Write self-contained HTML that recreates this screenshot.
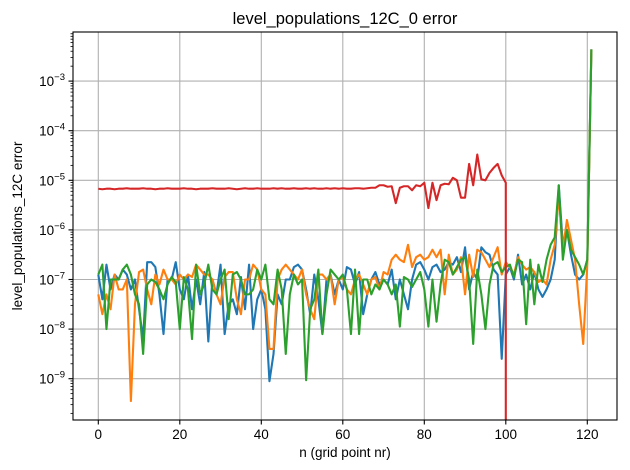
<!DOCTYPE html>
<html><head><meta charset="utf-8">
<style>
html,body{margin:0;padding:0;background:#fff;overflow:hidden;}
svg{display:block;font-family:"Liberation Sans","DejaVu Sans",sans-serif;}
</style></head>
<body>
<svg id="chart" width="630" height="470" viewBox="0 0 630 470">
<defs><clipPath id="plotclip"><rect x="73" y="32" width="544" height="388"/></clipPath></defs>
<rect width="630" height="470" fill="#fff"/>
<text x="345" y="24" text-anchor="middle" font-size="16.5" fill="#000">level_populations_12C_0 error</text>
<text x="345" y="457" text-anchor="middle" font-size="13.5" fill="#000">n (grid point nr)</text>
<text transform="translate(22,226) rotate(-90)" text-anchor="middle" font-size="13.5" fill="#000">level_populations_12C error</text>
<g id="grid"></g>
<g id="series" clip-path="url(#plotclip)"></g>
<rect x="73" y="32" width="544" height="388" fill="none" stroke="#000" stroke-width="1.1"/>
<g id="ticks"></g>
</svg>
<script>
const xTicks = [0, 20, 40, 60, 80, 100, 120];
const yTickExps = [-9, -8, -7, -6, -5, -4, -3];
const redLog10 = [-5.17,-5.18,-5.17,-5.17,-5.18,-5.17,-5.17,-5.16,-5.17,-5.17,-5.17,-5.16,-5.17,-5.17,-5.18,-5.17,-5.17,-5.16,-5.17,-5.17,
-5.17,-5.16,-5.17,-5.17,-5.18,-5.17,-5.17,-5.17,-5.16,-5.17,-5.17,-5.17,-5.16,-5.17,-5.18,-5.17,-5.16,-5.17,-5.17,-5.16,
-5.17,-5.17,-5.17,-5.16,-5.17,-5.16,-5.17,-5.17,-5.16,-5.17,-5.17,-5.16,-5.17,-5.16,-5.17,-5.17,-5.16,-5.17,-5.16,-5.17,
-5.16,-5.17,-5.17,-5.16,-5.16,-5.17,-5.16,-5.15,-5.15,-5.1,-5.1,-5.13,-5.12,-5.46,-5.15,-5.12,-5.12,-5.2,-5.1,-5.12,
-5.05,-5.56,-5.05,-5.4,-5.1,-5.07,-5.08,-4.95,-5.0,-5.35,-5.35,-4.67,-5.1,-4.48,-4.98,-5.0,-4.85,-4.75,-4.67,-4.9,-5.05,null];
const blueLog10 = [-6.9,-7.4,-6.7,-7.2,-6.9,-7.0,-6.8,-6.9,-7.2,-7.0,
-7.6,-8.2,-6.65,-6.65,-6.75,-7.3,-8.1,-7.0,-7.0,-6.65,
-7.2,-7.4,-6.9,-7.6,-7.0,-7.5,-6.85,-8.25,-7.0,-7.3,
-6.7,-8.1,-7.5,-7.4,-7.7,-6.95,-7.6,-6.7,-8.0,-7.4,
-7.2,-7.6,-9.05,-8.5,-7.3,-7.5,-7.0,-7.0,-6.75,-6.7,
-6.8,-7.2,-7.7,-6.9,-7.4,-8.1,-7.0,-6.9,-7.3,-7.0,
-7.2,-6.75,-6.8,-7.1,-6.85,-7.7,-7.3,-7.0,-6.85,-7.1,
-7.0,-7.1,-6.8,-7.4,-7.0,-7.3,-7.6,-7.0,-6.7,-6.65,
-6.8,-7.0,-6.75,-6.7,-6.85,-6.8,-6.65,-6.7,-6.55,-6.85,
-6.35,-7.2,-6.85,-7.0,-6.35,-6.45,-6.5,-6.8,-6.9,-8.6,
-6.9,-6.75,-7.0,-6.5,-7.1,-6.9,-7.2,-6.85,-7.2,-7.35,
-7.2,-7.0,-6.6,-5.1,-6.3,-6.0,-6.5,-6.9,-7.0,-6.9,
-6.6,-2.36];
const orangeLog10 = [-7.3,-7.7,-7.3,-7.6,-6.9,-7.2,-7.2,-7.0,-9.45,-7.5,
-6.85,-6.8,-7.2,-7.5,-6.9,-7.1,-6.8,-7.0,-7.0,-7.1,
-6.9,-7.0,-6.9,-6.95,-6.7,-6.8,-6.9,-6.9,-7.0,-7.3,
-7.5,-6.95,-6.85,-6.85,-7.4,-7.7,-7.0,-7.0,-6.7,-6.8,
-7.2,-7.3,-8.4,-8.4,-7.0,-6.8,-6.7,-6.8,-6.9,-7.0,
-6.8,-7.3,-7.6,-7.8,-6.9,-6.9,-7.0,-6.9,-7.5,-7.0,
-6.95,-7.2,-7.3,-7.0,-6.9,-7.1,-7.3,-7.0,-6.95,-7.2,
-6.85,-6.9,-6.6,-6.5,-6.6,-6.65,-6.3,-6.75,-6.55,-6.5,
-6.6,-6.55,-6.4,-6.55,-6.4,-7.3,-6.5,-6.9,-6.8,-6.55,
-7.3,-6.5,-6.95,-6.4,-6.45,-6.6,-6.75,-6.55,-6.35,-6.9,
-6.65,-6.75,-6.9,-6.55,-6.7,-6.8,-6.75,-6.85,-7.05,-7.0,
-7.1,-6.6,-6.3,-5.3,-6.4,-5.8,-6.2,-6.6,-7.5,-8.3,
-6.7,-2.36];
const greenLog10 = [-6.9,-6.7,-8.0,-7.0,-7.0,-7.0,-6.8,-6.7,-6.9,-7.3,
-7.5,-8.5,-7.1,-7.0,-7.05,-7.2,-7.4,-7.1,-6.95,-7.05,
-8.0,-6.95,-7.2,-8.2,-6.7,-7.3,-7.1,-6.7,-7.2,-7.3,
-7.0,-6.8,-7.8,-6.9,-6.85,-7.0,-7.3,-7.3,-7.2,-6.8,
-7.0,-6.7,-7.4,-7.5,-6.8,-7.2,-8.5,-7.3,-6.9,-7.1,
-7.0,-9.03,-7.6,-7.4,-6.8,-8.1,-7.3,-6.8,-6.9,-7.0,
-6.9,-7.2,-8.1,-6.8,-8.1,-7.0,-7.0,-7.3,-7.1,-7.2,
-7.0,-7.1,-7.3,-7.1,-7.95,-6.95,-7.0,-7.15,-7.0,-6.85,
-7.2,-7.95,-7.0,-7.85,-7.1,-6.6,-6.65,-6.9,-6.75,-6.6,
-6.55,-7.0,-8.3,-6.8,-7.3,-8.0,-7.1,-6.7,-6.65,-6.85,
-6.75,-6.7,-6.95,-6.6,-6.65,-7.9,-6.6,-7.5,-6.7,-7.05,
-6.6,-6.3,-6.15,-5.1,-6.6,-6.0,-6.4,-6.55,-6.7,-6.9,
-6.6,-2.36];

const NS = 'http://www.w3.org/2000/svg';
const L = 73, R = 617, T = 32, B = 420;
function xScale(n){ return 98.3 + 4.075 * n; }
function yScale(e){ return 180.3 - (e + 5) * 49.6; }
function mk(tag, attrs, parent){ const el = document.createElementNS(NS, tag); for (const k in attrs) el.setAttribute(k, attrs[k]); parent.appendChild(el); return el; }

const grid = document.getElementById('grid');
const ticks = document.getElementById('ticks');
xTicks.forEach(v => {
  const x = xScale(v);
  const g = mk('line', {x1:x, x2:x, y1:T, y2:B, stroke:'#b0b0b0', 'stroke-width':1.1}, grid);
  
  
  const t = mk('line', {x1:x, x2:x, y1:B, y2:B+4.5, stroke:'#000', 'stroke-width':1.1}, ticks);
  
  
  const lb = mk('text', {x:x, y:B+19, 'text-anchor':'middle', 'font-size':13.5, fill:'#000'}, ticks);
  lb.textContent = String(v);
  
  
});
yTickExps.forEach(e => {
  const y = yScale(e);
  const g = mk('line', {x1:L, x2:R, y1:y, y2:y, stroke:'#b0b0b0', 'stroke-width':1.1}, grid);
  
  
  const t = mk('line', {x1:L-4.5, x2:L, y1:y, y2:y, stroke:'#000', 'stroke-width':1.1}, ticks);
  
  
  const lb = mk('text', {x:L-8, y:y+5, 'text-anchor':'end', 'font-size':13.5, fill:'#000'}, ticks);
  
  
  const a = mk('tspan', {}, lb); a.textContent = '10';
  const b = mk('tspan', {dy:-6, 'font-size':9.5}, lb); b.textContent = '\u2212' + Math.abs(e);
});
for (let d = -10; d <= -2; d++) {
  for (let m = 2; m <= 9; m++) {
    const y = yScale(d + Math.log10(m));
    if (y < T || y > B) continue;
    const t = mk('line', {x1:L-2.5, x2:L, y1:y, y2:y, stroke:'#000', 'stroke-width':0.8}, ticks);
    
    
  }
}

const series = document.getElementById('series');
function drawSeries(arr, color, name){
  let d = '';
  arr.forEach((v, i) => {
    let x = xScale(i), y;
    if (v === null) { x = xScale(i - 1); y = B + 3; }
    else y = yScale(v);
    d += (i ? 'L' : 'M') + x.toFixed(2) + ' ' + y.toFixed(2);
  });
  const p = mk('path', {d:d, fill:'none', stroke:color, 'stroke-width':2.1, 'stroke-linejoin':'round', 'stroke-linecap':'butt'}, series);
  
  
}
drawSeries(blueLog10, '#1f77b4', 'series-blue-line');
drawSeries(orangeLog10, '#ff7f0e', 'series-orange-line');
drawSeries(greenLog10, '#2ca02c', 'series-green-line');
drawSeries(redLog10, '#d62728', 'series-red-line');
</script>
</body></html>
